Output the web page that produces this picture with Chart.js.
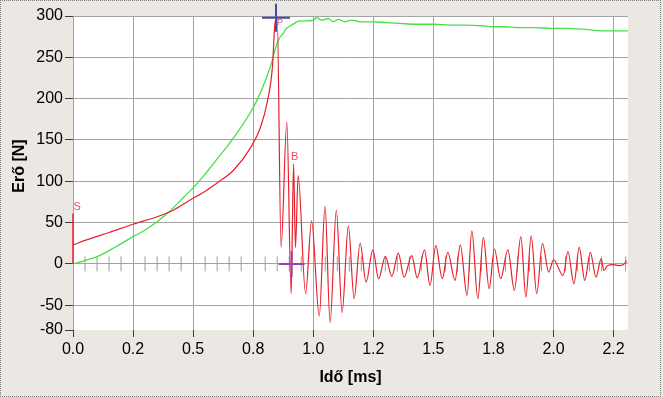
<!DOCTYPE html>
<html><head><meta charset="utf-8">
<script src="https://cdn.jsdelivr.net/npm/chart.js@4/dist/chart.umd.min.js"></script>
<style>
html,body{margin:0;padding:0;background:#ebe8e4;}
#wrap{position:relative;width:663px;height:397px;overflow:hidden;}
#frame{position:absolute;left:0;top:0;width:661px;height:397px;box-sizing:border-box;border:1px dotted #7a7a7a;pointer-events:none;}
canvas{position:absolute;left:0;top:0;}
</style></head><body>
<div id="wrap"><canvas id="c" width="663" height="397"></canvas><div id="frame"></div></div>
<script>
// ---- data ----
const xTickValues = [0, 0.25, 0.5, 0.75, 1.0, 1.25, 1.5, 1.75, 2.0, 2.25];
const xTickLabels = ['0.0','0.2','0.5','0.8','1.0','1.2','1.5','1.8','2.0','2.2'];
const yTickValues = [-80, -50, 0, 50, 100, 150, 200, 250, 300];
const xTitle = 'Idő [ms]';
const yTitle = 'Erő [N]';

const greenX = [0,0.05,0.11,0.18,0.25,0.3,0.35,0.4,0.445,0.5,0.528,0.6,0.667,0.736,0.764,0.806,0.826,0.847,0.861,0.875,0.889,0.91,0.944,0.972,1.0,1.014,1.035,1.062,1.083,1.104,1.132,1.16,1.195,1.25,1.3,1.36,1.43,1.5,1.57,1.64,1.71,1.75,1.8,1.85,1.92,1.99,2.06,2.125,2.2,2.26,2.31];
const greenY = [0,4,10,21,33,41,51,63,76,92,101,127,152,182,197,226,243,265,274,279,285,289,294,294,295,298,295,297,293,296,293,295,293,293,292,291,290,290,289,289,288,287,287,286,286,285,285,284,282,282,282];

const redX = [0,0.056,0.15,0.25,0.35,0.417,0.486,0.55,0.6,0.667,0.74,0.78,0.81,0.83,0.84,0.85,0.866,0.89,0.908,0.918,0.926,0.937,0.968,0.993,1.025,1.049,1.07,1.096,1.12,1.146,1.17,1.195,1.22,1.248,1.272,1.3,1.327,1.354,1.378,1.41,1.433,1.463,1.486,1.51,1.537,1.56,1.59,1.612,1.64,1.66,1.685,1.708,1.732,1.754,1.78,1.81,1.837,1.864,1.885,1.907,1.93,1.954,1.98,2.0,2.04,2.06,2.085,2.107,2.13,2.153,2.177,2.198,2.21,2.225,2.25,2.27,2.29,2.305];
const redY = [23,29,38,48,57,65,77,88,98,113,141,165,198,238,289,298,20,172,-36,121,20,107,-36,52,-63,70,-71,65,-59,46,-42,25,-22,17,-18,9,-15,13,-16,10,-17,17,-26,22,-18,14,-20,23,-38,40,-42,32,-30,18,-18,17,-32,33,-40,34,-36,25,-10,5,-14,15,-24,20,-20,14,-16,6,-8,-2,-1,-2,-1,4];

const spikeX = [0, 0];
const spikeY = [0, 61];

const minorTickX = [0.05,0.1,0.15,0.2,0.3,0.35,0.4,0.45,0.55,0.6,0.65,0.7,0.8,0.85,0.9,0.95,1.05,1.1,1.15,1.2,1.3,1.35,1.4,1.45,1.55,1.6,1.65,1.7,1.8,1.85,1.9,1.95,2.05,2.1,2.15,2.2,2.3];

const peakMarkX = [0.845], peakMarkY = [298];
const breakMarkX = [0.91], breakMarkY = [0];

const labelText = ['S', 'P', 'B'];
const labelX = [0.017, 0.862, 0.923];
const labelY = [69, 292, 129];

// ---- helpers ----
const pts = (xs, ys) => xs.map((x, i) => ({x: x, y: ys[i]}));
const FONT = "'Liberation Sans', Arial, sans-serif";

const plotBg = {
  id: 'plotBg',
  beforeDraw(chart) {
    const a = chart.chartArea, c = chart.ctx;
    c.save(); c.fillStyle = '#ffffff';
    c.fillRect(a.left, a.top, a.right - a.left, a.bottom - a.top);
    c.restore();
  }
};
const markLabels = {
  id: 'markLabels',
  afterDatasetsDraw(chart) {
    const c = chart.ctx, xs = chart.scales.x, ys = chart.scales.y;
    c.save();
    c.fillStyle = '#e6506a';
    c.textAlign = 'center'; c.textBaseline = 'middle';
    labelText.forEach((t, i) => {
      c.font = (t === 'P' ? '9px ' : '11px ') + FONT;
      c.fillText(t, xs.getPixelForValue(labelX[i]), ys.getPixelForValue(labelY[i]));
    });
    // y axis title
    c.fillStyle = '#000';
    c.font = 'bold 16px ' + FONT;
    c.translate(20, 166);
    c.rotate(-Math.PI / 2);
    c.fillText(yTitle, 0, 0);
    c.restore();
  }
};

new Chart(document.getElementById('c'), {
  type: 'line',
  data: {
    datasets: [
      { data: pts(peakMarkX, peakMarkY), showLine: false, pointStyle: 'cross', pointRadius: 14, borderColor: '#4a4a9c', borderWidth: 2, clip: false, order: 0 },
      { data: pts(breakMarkX, breakMarkY), showLine: false, pointStyle: 'cross', pointRadius: 13, borderColor: '#9b42b8', borderWidth: 2, clip: false, order: 0 },
      { data: pts(spikeX, spikeY), borderColor: 'rgb(232,32,44)', borderWidth: 1.5, pointRadius: 0, tension: 0, clip: false, order: 1 },
      { data: pts(redX, redY), borderColor: 'rgb(232,32,44)', borderWidth: 1.2, pointRadius: 0, cubicInterpolationMode: 'monotone', order: 1 },
      { data: pts(greenX, greenY), borderColor: 'rgb(70,224,70)', borderWidth: 1.3, pointRadius: 0, cubicInterpolationMode: 'monotone', order: 2 },
      { data: minorTickX.map(x => ({x: x, y: 0})), showLine: false, pointStyle: 'line', rotation: 90, pointRadius: 7.5, borderColor: '#9c9c9c', borderWidth: 1, order: 3 }
    ]
  },
  options: {
    responsive: false,
    animation: false,
    events: [],
    layout: { padding: { top: 15, right: 35, left: 0, bottom: 0 } },
    plugins: { legend: { display: false }, tooltip: { enabled: false } },
    scales: {
      x: {
        type: 'linear', min: 0, max: 2.31,
        afterBuildTicks: s => { s.ticks = xTickValues.map(v => ({value: v})); },
        afterFit: s => { s.height = 67; },
        ticks: { callback: (v, i) => xTickLabels[i], color: '#000', font: { family: FONT, size: 16 }, padding: 3, maxRotation: 0, autoSkip: false },
        grid: { color: '#a3a3a3', tickColor: '#3c3c3c', tickLength: 7, lineWidth: 1 },
        border: { display: false },
        title: { display: true, text: xTitle, color: '#000', font: { family: FONT, size: 16, weight: 'bold' }, padding: { top: 0, bottom: 10 } }
      },
      y: {
        type: 'linear', min: -80, max: 300,
        afterBuildTicks: s => { s.ticks = yTickValues.map(v => ({value: v})); },
        afterFit: s => { s.width = 73; },
        ticks: { color: '#000', font: { family: FONT, size: 16 }, padding: 2, autoSkip: false },
        grid: { color: c => (c.tick && c.tick.value === -80) ? 'rgba(0,0,0,0)' : '#a3a3a3', tickColor: '#3c3c3c', tickLength: 8, lineWidth: 1 },
        border: { display: false },
        title: { display: false }
      }
    }
  },
  plugins: [plotBg, markLabels]
});
</script>
</body></html>
